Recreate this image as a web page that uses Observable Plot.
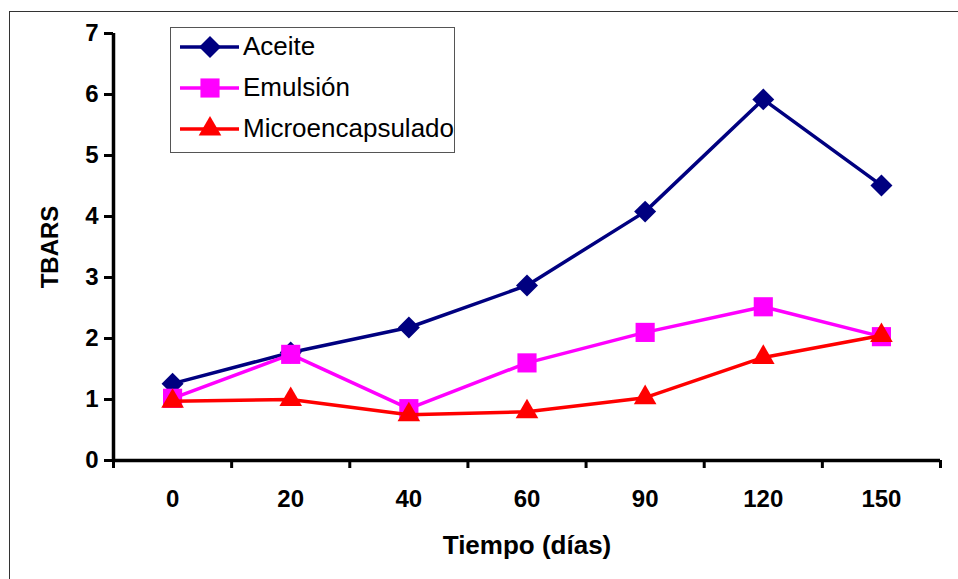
<!DOCTYPE html>
<html><head><meta charset="utf-8">
<script src="https://cdn.jsdelivr.net/npm/d3@7"></script>
<script src="https://cdn.jsdelivr.net/npm/@observablehq/plot@0.6"></script>
<style>
body{margin:0;background:#fff;}
#wrap{position:relative;width:958px;height:579px;overflow:hidden;font-family:"Liberation Sans",Arial,sans-serif;}
#border{position:absolute;left:9px;top:11px;width:1200px;height:1200px;border:1.5px solid #333;box-sizing:border-box;}
#chart{position:absolute;left:0;top:0;}
#legend{position:absolute;left:170px;top:27px;width:285px;height:126px;border:1px solid #555;box-sizing:border-box;background:#fff;}
.row{position:absolute;left:0;height:30px;}
.row svg{position:absolute;left:9px;top:0;}
.row span{position:absolute;left:72px;top:-2px;font-size:26px;line-height:30px;white-space:nowrap;color:#000;}
</style></head>
<body>
<div id="wrap"><div id="border"></div><div id="chart"></div><div id="legend"></div></div>
<script>
const categories = ["0","20","40","60","90","120","150"];
const aceite = [1.26,1.77,2.18,2.87,4.08,5.92,4.51];
const emulsion = [1.02,1.74,0.85,1.60,2.10,2.52,2.03];
const micro = [0.97,1.00,0.75,0.80,1.03,1.69,2.05];
const yTicks = [0,1,2,3,4,5,6,7];
const seriesNames = ["Aceite","Emulsión","Microencapsulado"];
const colors = ["#000080","#FF00FF","#FF0000"];
const symbols = ["diamond2","square","triangle"];
const radii = [9.9,10.8,8.4];

const idx = categories.map((_, i) => i);
const boundaries = [...idx.map(i => i - 0.5), categories.length - 0.5];
const series = [aceite, emulsion, micro].map((vals, s) =>
  vals.map((v, i) => ({i, v, s})));

const font = {fontSize: 24, fontWeight: "bold"};
const marks = [
  Plot.ruleY([0], {strokeWidth: 3.5, stroke: "#000"}),
  Plot.ruleX([-0.5], {strokeWidth: 3.5, stroke: "#000"}),
  Plot.axisX({ticks: boundaries, tickSize: 8, tickFormat: () => "", strokeWidth: 3, stroke: "#000", label: null}),
  Plot.axisX({ticks: idx, tickSize: 0, tickPadding: 29, tickFormat: i => categories[i], ...font, fill: "#000", label: null}),
  Plot.axisY({ticks: yTicks, tickSize: 9, tickPadding: 6, tickFormat: d => String(d), strokeWidth: 3, stroke: "#000", ...font, fill: "#000", label: null}),
  Plot.text(["Tiempo (días)"], {frameAnchor: "bottom", dy: 93, fontSize: 26, fontWeight: "bold", fill: "#000"}),
  Plot.text(["TBARS"], {frameAnchor: "left", textAnchor: "middle", dx: -63, rotate: -90, fontSize: 24, fontWeight: "bold", fill: "#000"})
];
series.forEach((data, s) => {
  marks.push(Plot.line(data, {x: "i", y: "v", stroke: colors[s], strokeWidth: 3.5}));
  marks.push(Plot.dot(data, {x: "i", y: "v", fill: colors[s], stroke: "none", symbol: () => symbols[s], r: radii[s]}));
});

const plot = Plot.plot({
  width: 958, height: 579,
  marginLeft: 113, marginRight: 18, marginTop: 33, marginBottom: 119,
  x: {type: "linear", domain: [-0.5, categories.length - 0.5], axis: null},
  y: {domain: [0, 7], axis: null},
  symbol: {type: "identity"},
  style: {fontFamily: "'Liberation Sans', Arial, sans-serif", background: "transparent"},
  marks
});
document.getElementById("chart").appendChild(plot);

const sizes = radii.map(r => r * r * Math.PI);
const symTypes = [d3.symbolDiamond2, d3.symbolSquare, d3.symbolTriangle];
const leg = d3.select("#legend");
seriesNames.forEach((name, s) => {
  const row = leg.append("div").attr("class", "row").style("top", (5 + s * 41) + "px").style("width", "280px");
  const svg = row.append("svg").attr("width", 60).attr("height", 30);
  svg.append("line").attr("x1", 0).attr("x2", 59).attr("y1", 14).attr("y2", 14).attr("stroke", colors[s]).attr("stroke-width", 3.5);
  svg.append("path").attr("d", d3.symbol(symTypes[s], sizes[s])()).attr("transform", "translate(30,14)").attr("fill", colors[s]);
  row.append("span").text(name);
});
</script>
</body></html>
